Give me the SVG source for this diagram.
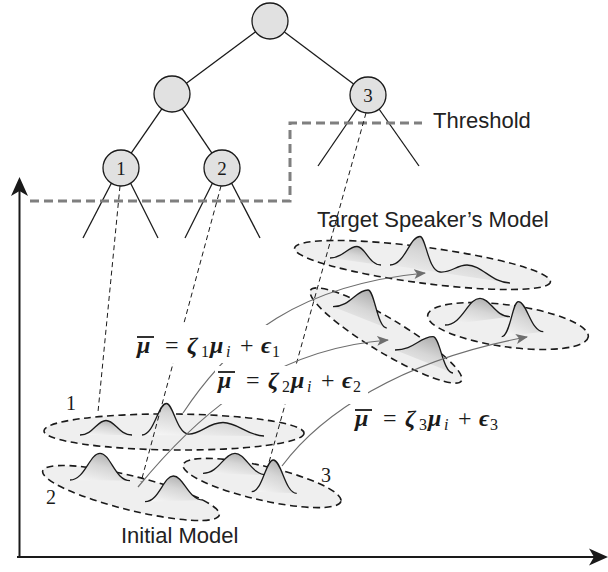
<svg xmlns="http://www.w3.org/2000/svg" width="608" height="572" viewBox="0 0 608 572">
  <defs>
    <style>
      .edge { stroke: #1a1a1a; stroke-width: 1.3; fill: none; }
      .node circle { fill: #e1e1e1; stroke: #1a1a1a; stroke-width: 1.3; }
      .node text { font-family: "Liberation Serif", "DejaVu Serif", serif; font-size: 19px; fill: #1a1a1a; text-anchor: middle; }
      .cloud { fill: #efefef; stroke: #1a1a1a; stroke-width: 1.6; stroke-dasharray: 7 4.5; }
      .bell { fill: url(#shade); stroke: #1a1a1a; stroke-width: 1.3; }
      .link { stroke: #1a1a1a; stroke-width: 1; stroke-dasharray: 5 3.5; fill: none; }
      .map { stroke: #6e6e6e; stroke-width: 1.2; fill: none; marker-end: url(#head); }
      .label { font-family: "Liberation Sans", Arial, sans-serif; font-size: 22px; fill: #222; }
      .num { font-family: "Liberation Serif", "DejaVu Serif", serif; font-size: 20px; fill: #1a1a1a; }
      .eq text { font-family: "Liberation Serif", "DejaVu Serif", serif; fill: #1a1a1a; }
      .eq .g { font-size: 24px; font-weight: bold; font-style: italic; }
      .eq .op { font-size: 24px; }
      .eq .sub { font-size: 16px; }
      .eq .subi { font-size: 16px; font-style: italic; }
      .eq .bar { stroke: #1a1a1a; stroke-width: 1.8; }
      .eq .mask { fill: #ffffff; }
      .axis { stroke: #1a1a1a; stroke-width: 2; fill: none; }
    </style>
    <linearGradient id="shade" x1="0.15" y1="1" x2="0.75" y2="0">
      <stop offset="0" stop-color="#f6f6f6"/>
      <stop offset="0.55" stop-color="#d6d6d6"/>
      <stop offset="1" stop-color="#a9a9a9"/>
    </linearGradient>
    <marker id="head" viewBox="0 0 12 10" refX="11" refY="5" markerWidth="12" markerHeight="10" markerUnits="userSpaceOnUse" orient="auto">
      <path d="M0,0 L12,5 L0,10 L3,5 Z" fill="#6e6e6e"/>
    </marker>
  </defs>

  <rect width="608" height="572" fill="#ffffff"/>

  <!-- axes -->
  <g id="axes">
    <line class="axis" x1="19.5" y1="558" x2="19.5" y2="190"/>
    <path d="M19.5,177 L28,196 L19.5,191 L11,196 Z" fill="#1a1a1a"/>
    <line class="axis" x1="17" y1="557" x2="596" y2="557"/>
    <path d="M608,557 L589,548.5 L594,557 L589,565.5 Z" fill="#1a1a1a"/>
  </g>

  <!-- initial model clusters -->
  <g id="init-1">
    <ellipse class="cloud" cx="174" cy="432" rx="130" ry="18" transform="rotate(0.5 174 432)"/>
    <path class="bell" d="M80,435 C93,435 96.9,420.5 106,420.5 C115.1,420.5 119,435 132,435"/>
    <path class="bell" d="M142,435 C154.3,435 158,403.5 166.5,403.5 C173,403.5 177,433 188,434 C200,435 208,422.5 223,422.5 C238,422.5 248,436 264,436"/>
  </g>
  <g id="init-2">
    <ellipse class="cloud" cx="131" cy="493" rx="91" ry="17" transform="rotate(14 131 493)"/>
    <path class="bell" d="M70,480 C85,480 89.5,453.3 100,453.3 C110.5,453.3 115,480.7 130,480.7"/>
    <path class="bell" d="M145,501.7 C159.2,501.7 163.4,476 173.3,476 C183.7,476 188.2,500 203,500"/>
  </g>
  <g id="init-3">
    <ellipse class="cloud" cx="262" cy="483" rx="81" ry="17" transform="rotate(13 262 483)"/>
    <path class="bell" d="M203,473.3 C219,473.3 224,453.3 235,453.3 C246,453.3 251,475 267,475"/>
    <path class="bell" d="M251.7,491.7 C262.5,491.7 265.7,460 273.3,460 C281.5,460 285,493.3 296.7,493.3"/>
  </g>

  <!-- adapted (target) clusters -->
  <g id="target-1">
    <ellipse class="cloud" cx="422.5" cy="265" rx="129" ry="18" transform="rotate(7.5 422.5 265)"/>
    <path class="bell" d="M330,258 C343.5,258 347.5,246.5 357,246.5 C365.4,246.5 369,265 381,265"/>
    <path class="bell" d="M390,265 C405,265 409.5,236.5 420,236.5 C426,236.5 428,271 440,272 C452,273 456,265 467,265 C482,265 492,283 510,283"/>
  </g>
  <g id="target-2">
    <ellipse class="cloud" cx="386" cy="335.5" rx="88" ry="17" transform="rotate(31 386 335.5)"/>
    <path class="bell" d="M333,306.7 C350.5,306.7 355.7,290 368,290 C374.5,290 377.4,328 386.7,328"/>
    <path class="bell" d="M395,350 C414,350 419.7,336.7 433,336.7 C440,336.7 443,373 453,373"/>
  </g>
  <g id="target-3">
    <ellipse class="cloud" cx="508" cy="326" rx="81" ry="21" transform="rotate(7.7 508 326)"/>
    <path class="bell" d="M445,325 C462.5,325 467.7,298.3 480,298.3 C490.5,298.3 495,316.7 510,316.7"/>
    <path class="bell" d="M501.7,336.7 C510,336.7 512.5,301.7 518.3,301.7 C527,301.7 530.8,331.7 543.3,331.7"/>
  </g>

  <!-- connectors: tree edges, leaf-to-cluster links, mapping arrows -->
  <g id="connectors">
    <line class="edge" x1="255.6" y1="31.7" x2="186.4" y2="83.3"/>
    <line class="edge" x1="284.4" y1="31.9" x2="353.6" y2="84.1"/>
    <line class="edge" x1="161.8" y1="108.8" x2="131.2" y2="153.2"/>
    <line class="edge" x1="182.1" y1="108.9" x2="211.9" y2="153.1"/>
    <line class="edge" x1="357" y1="109" x2="318" y2="166"/>
    <line class="edge" x1="379" y1="109" x2="419" y2="166"/>
    <line class="edge" x1="111.5" y1="183" x2="83" y2="238"/>
    <line class="edge" x1="130.5" y1="183" x2="158" y2="238"/>
    <line class="edge" x1="212.5" y1="183" x2="185" y2="238"/>
    <line class="edge" x1="231.5" y1="183" x2="260" y2="238"/>

    <path d="M30,201 H290 V123 H422" fill="none" stroke="#7f7f7f" stroke-width="3" stroke-dasharray="9 5"/>

    <line class="link" x1="120" y1="186" x2="98" y2="412"/>
    <line class="link" x1="221" y1="186" x2="141" y2="482"/>
    <line class="link" x1="366" y1="113" x2="268" y2="466"/>

    <path class="map" d="M183,413 C235,335 300,285 425,273"/>
    <path class="map" d="M138,487 C185,430 260,350 388,340"/>
    <path class="map" d="M282,466 C320,415 400,360 527,337"/>
  </g>

  <!-- transformation equations -->
  <g id="eq-1" class="eq" transform="translate(137 353)">
    <rect class="mask" x="-7" y="-28" width="157" height="38"/>
    <text class="g" x="0" y="0">μ</text>
    <line class="bar" x1="0" y1="-16" x2="17" y2="-16"/>
    <text class="op" x="28" y="0">=</text>
    <text class="g" x="50" y="0">ζ</text>
    <text class="sub" x="64" y="4">1</text>
    <text class="g" x="73" y="0">μ</text>
    <text class="subi" x="89" y="4">i</text>
    <text class="op" x="103" y="0">+</text>
    <text class="g" x="124" y="0">ϵ</text>
    <text class="sub" x="135" y="4">1</text>
  </g>
  <g id="eq-2" class="eq" transform="translate(218 388)">
    <rect class="mask" x="-3" y="-22" width="153" height="38"/>
    <text class="g" x="0" y="0">μ</text>
    <line class="bar" x1="0" y1="-16" x2="17" y2="-16"/>
    <text class="op" x="28" y="0">=</text>
    <text class="g" x="50" y="0">ζ</text>
    <text class="sub" x="64" y="4">2</text>
    <text class="g" x="73" y="0">μ</text>
    <text class="subi" x="89" y="4">i</text>
    <text class="op" x="103" y="0">+</text>
    <text class="g" x="124" y="0">ϵ</text>
    <text class="sub" x="135" y="4">2</text>
  </g>
  <g id="eq-3" class="eq" transform="translate(355 426)">
    <text class="g" x="0" y="0">μ</text>
    <line class="bar" x1="0" y1="-16" x2="17" y2="-16"/>
    <text class="op" x="28" y="0">=</text>
    <text class="g" x="50" y="0">ζ</text>
    <text class="sub" x="64" y="4">3</text>
    <text class="g" x="73" y="0">μ</text>
    <text class="subi" x="89" y="4">i</text>
    <text class="op" x="103" y="0">+</text>
    <text class="g" x="124" y="0">ϵ</text>
    <text class="sub" x="135" y="4">3</text>
  </g>

  <!-- tree nodes -->
  <g id="node-root" class="node"><circle cx="270" cy="21" r="18"/></g>
  <g id="node-left" class="node"><circle cx="172" cy="94" r="18"/></g>
  <g id="node-3" class="node"><circle cx="368" cy="95" r="18"/><text x="368" y="101.5">3</text></g>
  <g id="node-1" class="node"><circle cx="121" cy="168" r="18"/><text x="121" y="174.5">1</text></g>
  <g id="node-2" class="node"><circle cx="222" cy="168" r="18"/><text x="222" y="174.5">2</text></g>

  <!-- labels -->
  <g id="labels">
    <text class="label" x="433" y="128">Threshold</text>
    <text class="label" x="317" y="227">Target Speaker’s Model</text>
    <text class="label" x="121" y="543">Initial Model</text>
    <text class="num" x="66" y="410">1</text>
    <text class="num" x="46" y="504">2</text>
    <text class="num" x="321" y="482">3</text>
  </g>
</svg>
